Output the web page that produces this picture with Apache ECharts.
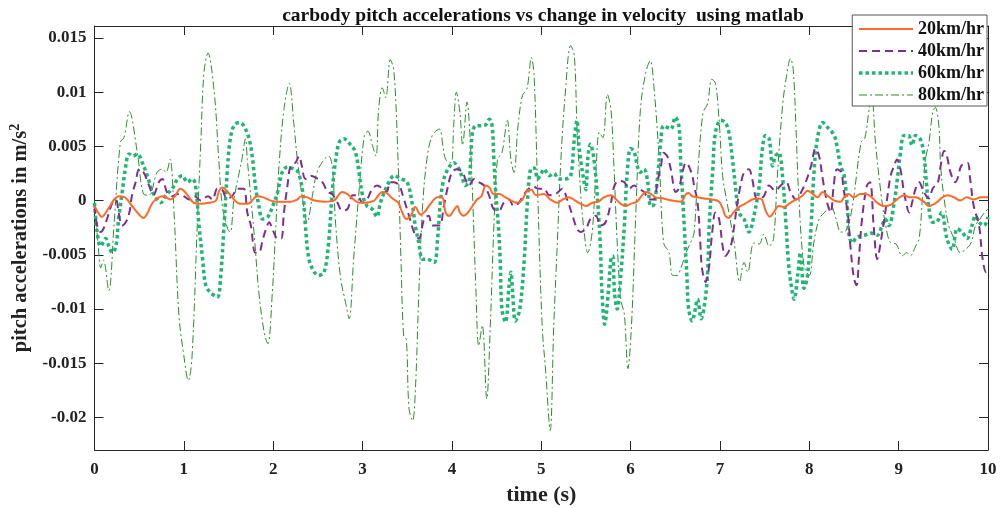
<!DOCTYPE html>
<html>
<head>
<meta charset="utf-8">
<script src="https://cdn.jsdelivr.net/npm/echarts@6/dist/echarts.min.js"></script>
<style>html,body{margin:0;padding:0;background:#fff}#c{width:1000px;height:508px}</style>
</head>
<body>
<div id="c"></div>
<script>
var seriesNames = ['20km/hr', '40km/hr', '60km/hr', '80km/hr'];
var yTicks = [-0.02, -0.015, -0.01, -0.005, 0, 0.005, 0.01, 0.015];
var yTickLabels = ['-0.02', '-0.015', '-0.01', '-0.005', '0', '0.005', '0.01', '0.015'];
var xTicks = [0, 1, 2, 3, 4, 5, 6, 7, 8, 9, 10];

var t20 = [0,0.04,0.08,0.15,0.22,0.27,0.34,0.42,0.49,0.546,0.59,0.65,0.72,0.77,0.85,0.90,0.96,1.0,1.06,1.11,1.19,1.28,1.36,1.39,1.43,1.48,1.54,1.60,1.67,1.74,1.82,1.89,1.97,2.05,2.20,2.27,2.315,2.38,2.46,2.57,2.68,2.74,2.77,2.83,2.90,2.96,3.02,3.13,3.17,3.22,3.27,3.32,3.35,3.40,3.445,3.49,3.54,3.59,3.65,3.70,3.76,3.84,3.89,3.93,3.97,4.02,4.06,4.09,4.13,4.18,4.23,4.28,4.33,4.38,4.42,4.47,4.53,4.58,4.64,4.73,4.79,4.84,4.89,4.94,5.03,5.10,5.18,5.24,5.31,5.38,5.44,5.50,5.57,5.64,5.70,5.78,5.84,5.89,5.945,6.00,6.07,6.13,6.17,6.23,6.28,6.37,6.46,6.56,6.62,6.65,6.69,6.75,6.82,6.91,6.99,7.03,7.06,7.10,7.15,7.21,7.28,7.36,7.43,7.47,7.51,7.56,7.60,7.66,7.72,7.77,7.83,7.88,7.94,7.98,8.04,8.09,8.15,8.21,8.28,8.35,8.39,8.44,8.50,8.57,8.63,8.70,8.76,8.83,8.91,8.98,9.06,9.12,9.19,9.28,9.34,9.42,9.49,9.545,9.62,9.69,9.76,9.84,9.92,10.0];
var v20 = [-0.0005,-0.0011,-0.0015,-0.0008,0.0001,0.0004,0.0003,-0.0005,-0.0012,-0.0016,-0.0012,-0.0002,0.0003,0.0004,0.0001,0.0004,0.0011,0.0009,0.0003,-0.0002,-0.0003,-0.0002,0.0,0.0008,0.0012,0.0009,0.0003,-0.0002,-0.0003,-0.0002,0.0004,0.0003,0.0,-0.0001,-0.0001,0.0001,0.0004,0.0003,0.0,-0.0001,0.0,0.0006,0.0008,0.0006,0.0001,-0.0002,-0.0002,0.0,0.0004,0.0008,0.0007,0.0003,0.0001,-0.0002,-0.0011,-0.0017,-0.0014,-0.0006,-0.0013,-0.001,-0.0003,0.0003,0.0003,-0.0011,-0.0014,-0.0009,-0.0005,-0.0011,-0.0014,-0.0011,-0.0005,0.0001,0.0004,0.0014,0.0012,0.0006,0.0006,0.0004,0.0001,-0.0002,0.0001,0.0009,0.001,0.0005,0.0006,0.0001,-0.0002,0.0001,0.0003,0.0,-0.0003,-0.0005,-0.0002,-0.0001,0.0003,0.0005,0.0001,-0.0003,-0.0005,-0.0003,-0.0001,0.0005,0.0008,0.0006,0.0003,0.0002,0.0,-0.0001,0.0006,0.0007,0.0004,0.0003,0.0002,0.0001,-0.0001,-0.0007,-0.0014,-0.0016,-0.0011,-0.0006,-0.0003,0.0001,0.0002,0.0001,-0.0009,-0.0015,-0.0011,-0.0005,-0.0006,-0.0003,0.0,0.0002,0.0006,0.0009,0.0006,0.0003,0.0008,0.0004,0.0,-0.0001,0.0003,0.0006,0.0003,0.0006,0.0006,0.0003,-0.0002,-0.0005,-0.0004,0.0001,0.0005,0.0003,0.0003,-0.0001,-0.0005,-0.0002,0.0003,0.0005,0.0003,0.0,0.0003,0.0001,0.0003,0.0003];

var t40 = [0,0.03,0.07,0.10,0.14,0.2,0.24,0.27,0.31,0.35,0.39,0.42,0.46,0.50,0.55,0.61,0.66,0.72,0.76,0.81,0.87,0.93,1.0,1.06,1.12,1.19,1.27,1.32,1.375,1.43,1.48,1.54,1.60,1.67,1.71,1.75,1.80,1.84,1.88,1.92,1.955,1.99,2.05,2.09,2.12,2.16,2.195,2.25,2.29,2.32,2.36,2.42,2.48,2.55,2.61,2.66,2.72,2.77,2.83,2.89,2.94,3.0,3.05,3.11,3.165,3.22,3.27,3.31,3.35,3.41,3.46,3.52,3.576,3.63,3.69,3.74,3.78,3.86,3.91,3.95,4.00,4.06,4.12,4.15,4.19,4.25,4.30,4.36,4.415,4.47,4.53,4.58,4.64,4.69,4.75,4.80,4.86,4.91,4.97,5.03,5.09,5.16,5.235,5.29,5.35,5.40,5.44,5.50,5.55,5.61,5.665,5.72,5.78,5.82,5.87,5.93,5.98,6.04,6.09,6.15,6.21,6.26,6.30,6.34,6.37,6.41,6.45,6.505,6.54,6.58,6.62,6.65,6.69,6.71,6.75,6.78,6.80,6.84,6.88,6.91,6.95,6.99,7.03,7.06,7.12,7.16,7.19,7.23,7.27,7.325,7.36,7.42,7.49,7.55,7.62,7.68,7.74,7.79,7.85,7.91,7.96,8.02,8.07,8.11,8.15,8.20,8.24,8.27,8.31,8.36,8.38,8.43,8.46,8.50,8.53,8.555,8.59,8.645,8.68,8.72,8.76,8.80,8.855,8.91,8.95,8.98,9.02,9.06,9.12,9.15,9.19,9.23,9.28,9.34,9.38,9.44,9.47,9.51,9.54,9.58,9.635,9.67,9.70,9.77,9.80,9.84,9.90,9.94,9.98,10.0];
var v40 = [-0.0005,-0.0023,-0.0029,-0.0026,-0.0017,-0.0002,0.0001,-0.0011,-0.0023,-0.002,-0.0011,0.0005,0.0017,0.0029,0.0026,0.0014,0.0005,0.0017,0.002,0.0008,0.0004,0.0006,0.0004,0.0001,0.0004,0.0,0.0004,0.0001,0.0011,0.001,0.0002,0.0004,0.0011,0.0011,-0.0011,-0.0023,-0.0048,-0.0048,-0.0037,-0.0026,-0.002,-0.0026,-0.0035,-0.0035,-0.0011,0.0014,0.0032,0.0035,0.0041,0.0032,0.002,0.0023,0.0021,0.0017,0.0008,0.0006,-0.0002,-0.0009,-0.0008,0.0005,0.0005,-0.0002,0.0001,0.0011,0.0014,0.0011,0.0008,0.0017,0.0017,0.0014,0.0002,-0.0014,-0.0029,-0.0035,-0.0017,-0.0014,-0.0023,-0.0023,-0.0005,0.0011,0.0026,0.0029,0.0026,0.002,0.0014,0.002,0.0017,0.0014,0.0005,-0.0008,-0.0009,-0.0002,0.0001,-0.0005,-0.0002,0.0005,0.0011,0.0013,0.0011,0.0011,0.0005,0.0006,0.0011,0.0001,-0.0014,-0.0026,-0.0029,-0.0026,-0.0017,-0.0014,-0.0023,-0.002,-0.0002,0.0014,0.0018,0.0017,0.0011,0.0014,0.0011,0.0008,0.0001,0.0001,0.0017,0.0032,0.0044,0.0041,0.0029,0.0008,0.0011,0.0026,0.0035,0.0032,0.0023,0.0014,-0.0002,-0.0039,-0.0063,-0.0075,-0.006,-0.0032,-0.0011,-0.0017,-0.0042,-0.0051,-0.0042,-0.0023,-0.0005,0.0014,0.0026,0.0029,0.002,0.0001,0.0004,0.0014,0.0009,0.0014,0.0017,0.0008,0.0001,0.0008,0.0017,0.0032,0.0048,0.0041,0.002,-0.0002,-0.0011,0.0011,0.0029,0.0026,0.0012,-0.0011,-0.0042,-0.0072,-0.0078,-0.0054,-0.0017,0.0014,0.0017,-0.0023,-0.0054,-0.0038,-0.0008,0.0023,0.0032,0.0038,0.0029,0.0008,-0.0011,-0.0002,0.0011,0.0017,0.0008,0.0002,0.0011,0.0017,0.0032,0.0046,0.0041,0.0026,0.0017,0.0023,0.0032,0.0035,0.002,-0.0005,-0.0023,-0.0054,-0.0066,-0.0065];

var t60 = [0,0.03,0.07,0.125,0.16,0.2,0.24,0.27,0.31,0.35,0.385,0.43,0.48,0.535,0.59,0.65,0.70,0.74,0.80,0.87,0.93,0.98,1.04,1.095,1.13,1.17,1.21,1.245,1.30,1.375,1.41,1.45,1.49,1.52,1.56,1.62,1.67,1.73,1.77,1.80,1.84,1.88,1.94,1.99,2.05,2.10,2.16,2.23,2.28,2.33,2.36,2.40,2.46,2.51,2.57,2.62,2.66,2.70,2.74,2.79,2.87,2.92,2.96,3.00,3.05,3.11,3.16,3.20,3.26,3.315,3.35,3.43,3.50,3.56,3.59,3.63,3.67,3.72,3.80,3.84,3.87,3.91,3.97,4.02,4.08,4.12,4.15,4.19,4.21,4.23,4.27,4.33,4.38,4.42,4.45,4.47,4.49,4.52,4.54,4.56,4.60,4.64,4.66,4.68,4.71,4.76,4.81,4.84,4.88,4.92,4.96,5.00,5.03,5.09,5.14,5.20,5.27,5.33,5.37,5.40,5.42,5.44,5.48,5.50,5.52,5.55,5.59,5.63,5.66,5.68,5.71,5.75,5.78,5.80,5.82,5.85,5.89,5.93,5.96,6.00,6.04,6.075,6.11,6.15,6.19,6.225,6.26,6.30,6.34,6.37,6.45,6.50,6.54,6.56,6.60,6.63,6.65,6.69,6.71,6.75,6.79,6.82,6.86,6.88,6.92,6.95,7.01,7.06,7.10,7.14,7.18,7.21,7.27,7.325,7.38,7.44,7.47,7.51,7.55,7.59,7.62,7.66,7.70,7.74,7.77,7.81,7.83,7.87,7.90,7.94,7.98,8.02,8.05,8.09,8.15,8.21,8.28,8.31,8.35,8.39,8.43,8.44,8.48,8.53,8.615,8.69,8.76,8.815,8.85,8.89,8.95,8.99,9.02,9.06,9.11,9.15,9.19,9.24,9.28,9.31,9.34,9.38,9.42,9.48,9.54,9.60,9.655,9.71,9.765,9.82,9.86,9.90,9.955,10.0];
var v60 = [-0.0002,-0.0029,-0.0042,-0.0035,-0.0042,-0.0048,-0.0042,-0.0017,0.0008,0.0032,0.0043,0.0041,0.0043,0.0035,0.0023,0.0008,0.0001,-0.0002,0.0005,0.0011,0.002,0.0023,0.0017,0.002,0.0014,-0.0023,-0.0054,-0.0078,-0.0085,-0.0089,-0.0072,-0.0023,0.0032,0.0057,0.0069,0.0072,0.0069,0.0057,0.0038,0.0014,-0.0005,-0.0017,-0.0015,-0.0006,0.0008,0.0026,0.0031,0.0029,0.0026,0.0008,-0.0023,-0.0054,-0.0066,-0.0069,-0.0066,-0.0039,0.0008,0.0038,0.0054,0.0057,0.0051,0.0045,0.0026,0.0005,-0.0005,-0.0008,-0.0015,-0.0002,0.0011,0.002,0.0023,0.002,0.0017,-0.0005,-0.0023,-0.0039,-0.0054,-0.0054,-0.0057,-0.0035,-0.0002,0.002,0.0031,0.0035,0.0029,0.002,0.0014,0.0017,0.0038,0.0063,0.0069,0.0069,0.007,0.0075,0.0069,0.0038,0.0008,-0.0023,-0.0054,-0.010,-0.0112,-0.0078,-0.0066,-0.0085,-0.0111,-0.010,-0.0054,-0.0008,0.0029,0.003,0.002,0.0025,0.0029,0.0023,0.0025,0.002,0.002,0.0023,0.0057,0.0074,0.0052,0.0038,0.0017,0.0010,0.0038,0.0052,0.0038,0.0001,-0.0039,-0.0085,-0.0114,-0.0085,-0.0054,-0.0051,-0.0085,-0.010,-0.0069,-0.0023,0.0023,0.0048,0.0045,0.0032,0.0026,0.0029,0.0018,-0.0005,-0.0004,0.002,0.0057,0.0069,0.0066,0.0077,0.0069,0.0038,-0.0023,-0.0069,-0.010,-0.0111,-0.0106,-0.0091,-0.0109,-0.010,-0.0069,-0.0023,0.0029,0.0063,0.0074,0.0072,0.0063,0.0038,0.0008,-0.0011,-0.0017,-0.0029,-0.0014,0.0014,0.0044,0.006,0.0057,0.0032,0.0041,0.0044,0.0023,-0.0023,-0.006,-0.0085,-0.0091,-0.0069,-0.0048,-0.0081,-0.0069,-0.0023,0.0023,0.0057,0.0072,0.0067,0.006,0.005,0.0032,0.0023,-0.0011,-0.0029,-0.0039,-0.0034,-0.0032,-0.003,-0.0032,-0.0023,-0.0017,-0.0023,-0.0002,0.0023,0.0044,0.006,0.006,0.0051,0.006,0.0057,0.0044,0.0017,-0.0008,-0.002,-0.002,-0.0011,-0.0035,-0.0045,-0.0026,-0.0029,-0.0035,-0.0023,-0.0014,-0.002,-0.0023,-0.0015];

var t80 = [0,0.04,0.07,0.1,0.16,0.22,0.29,0.33,0.39,0.48,0.55,0.61,0.70,0.76,0.80,0.845,0.89,0.945,1.0,1.05,1.09,1.15,1.19,1.225,1.27,1.34,1.39,1.43,1.49,1.52,1.56,1.62,1.65,1.69,1.71,1.785,1.84,1.90,1.94,1.99,2.03,2.065,2.12,2.18,2.23,2.27,2.33,2.38,2.44,2.49,2.57,2.62,2.66,2.70,2.755,2.81,2.85,2.90,2.96,3.02,3.06,3.11,3.15,3.18,3.22,3.26,3.31,3.35,3.39,3.43,3.46,3.49,3.52,3.56,3.59,3.63,3.67,3.72,3.78,3.86,3.90,3.93,3.99,4.02,4.05,4.09,4.12,4.17,4.20,4.23,4.27,4.30,4.34,4.39,4.43,4.47,4.51,4.56,4.62,4.66,4.695,4.74,4.79,4.84,4.89,4.92,4.96,5.01,5.05,5.10,5.14,5.18,5.22,5.27,5.33,5.37,5.40,5.44,5.48,5.52,5.57,5.61,5.65,5.69,5.74,5.78,5.81,5.85,5.89,5.93,5.97,6.01,6.06,6.11,6.17,6.22,6.26,6.32,6.37,6.43,6.47,6.52,6.56,6.62,6.67,6.71,6.75,6.81,6.86,6.91,6.95,6.99,7.03,7.08,7.16,7.22,7.27,7.31,7.38,7.44,7.49,7.55,7.60,7.64,7.70,7.74,7.79,7.82,7.85,7.88,7.94,8.00,8.05,8.11,8.17,8.24,8.30,8.35,8.39,8.47,8.58,8.62,8.67,8.70,8.74,8.80,8.855,8.91,8.97,9.04,9.09,9.13,9.19,9.23,9.27,9.30,9.34,9.38,9.41,9.45,9.47,9.51,9.56,9.62,9.69,9.75,9.81,9.86,9.91,9.96,10.0];
var v80 = [0,-0.004,-0.0062,-0.0055,-0.0083,-0.002,0.0054,0.0058,0.0082,0.0044,0.0006,0.0005,0.0026,0.0029,0.0026,0.0038,-0.0011,-0.0106,-0.0143,-0.0166,-0.0146,-0.0023,0.0054,0.0118,0.0136,0.010,0.0039,-0.0005,-0.0026,-0.0029,0.0001,0.0026,0.0038,0.0057,0.0038,-0.0029,-0.0085,-0.0122,-0.0132,-0.0085,-0.0023,0.0032,0.0084,0.0108,0.0072,0.0038,0.0001,-0.002,0.0005,0.0026,0.0038,0.0041,0.0032,-0.0023,-0.0072,-0.0094,-0.0109,-0.0054,0.0008,0.006,0.0064,0.0051,0.0041,0.0084,0.0104,0.0095,0.013,0.012,0.0054,-0.0054,-0.0125,-0.0128,-0.0192,-0.0203,-0.0177,-0.0085,-0.0008,0.0038,0.006,0.0066,0.005,0.0038,0.0035,0.0069,0.010,0.0081,0.0051,0.0091,0.0063,0.0008,-0.0085,-0.0134,-0.0115,-0.0183,-0.0115,-0.0023,0.0038,0.0044,0.0074,0.0038,0.0026,0.0069,0.0097,0.0103,0.0132,0.0115,0.0008,-0.0115,-0.0158,-0.0212,-0.0115,-0.0039,0.0038,0.010,0.0143,0.0134,0.0069,0.0008,-0.0029,-0.0048,-0.0029,0.0023,0.0063,0.0058,0.0098,0.0084,0.0038,-0.0039,-0.0091,-0.0105,-0.0155,-0.0115,-0.0008,0.0084,0.0118,0.0129,0.0106,0.0038,-0.0039,-0.0048,-0.0069,-0.0069,-0.0063,-0.0048,-0.0039,-0.003,0.0023,0.0081,0.0089,0.0112,0.0108,0.0075,0.0023,-0.0002,-0.0039,-0.0075,-0.0057,-0.0066,-0.0039,-0.004,-0.0031,-0.0042,-0.0035,0.002,0.0087,0.0112,0.0131,0.0121,0.0069,0.0008,-0.006,-0.0069,-0.0039,-0.0017,-0.0011,-0.0005,-0.0017,-0.0029,-0.0029,-0.0011,0.0054,0.0057,0.0084,0.0095,0.0054,0.0008,-0.0023,-0.0039,-0.004,-0.0051,-0.0048,-0.0051,-0.0042,-0.0035,0.0008,0.0038,0.0054,0.0081,0.0086,0.0069,0.0032,0.0001,-0.0023,-0.0035,-0.0048,-0.0045,-0.0039,-0.0023,-0.0017,-0.0011,-0.0008];

function pairs(t, v) { return t.map(function (x, i) { return [x, v[i]]; }); }

var serif = 'Liberation Serif';
var axisCol = '#262626';
var yMin = -0.023, yMax = 0.0161;

var chart = echarts.init(document.getElementById('c'), null, { renderer: 'canvas' });
chart.setOption({
  animation: false,
  backgroundColor: '#ffffff',
  title: {
    text: 'carbody pitch accelerations vs change in velocity  using matlab',
    left: 538, textAlign: 'center', top: 1,
    textStyle: { fontFamily: serif, fontWeight: 'bold', fontSize: 19.5, color: '#111' }
  },
  grid: { left: 94.5, right: 12, top: 26, bottom: 58, containLabel: false, outerBoundsMode: 'none' },
  legend: {
    orient: 'vertical', right: 13, top: 15,
    itemWidth: 54, itemHeight: 14, itemGap: 4,
    padding: [5, 3, 2, 5],
    backgroundColor: '#ffffff', borderColor: '#555', borderWidth: 1, borderRadius: 0,
    itemStyle: { opacity: 0 },
    textStyle: { fontFamily: serif, fontWeight: 'bold', fontSize: 18, color: '#111' },
    data: [
      { name: seriesNames[0], lineStyle: { width: 2 } },
      { name: seriesNames[1], lineStyle: { width: 2 } },
      { name: seriesNames[2], lineStyle: { width: 3.5 } },
      { name: seriesNames[3], lineStyle: { width: 1 } }
    ]
  },
  xAxis: [{
    type: 'value', min: 0, max: 10, interval: 1, position: 'bottom',
    name: 'time (s)', nameLocation: 'middle', nameGap: 34,
    nameTextStyle: { fontFamily: serif, fontWeight: 'bold', fontSize: 22, color: '#222' },
    axisLine: { show: true, onZero: false, lineStyle: { color: axisCol, width: 1 } },
    axisTick: { show: true, inside: true, length: 9, lineStyle: { color: axisCol } },
    axisLabel: { fontFamily: serif, fontWeight: 'bold', fontSize: 17, color: '#222', margin: 11,
      formatter: function (v) { return String(v); } },
    splitLine: { show: false }
  }, {
    type: 'value', min: 0, max: 10, interval: 1, position: 'top',
    axisLine: { show: true, onZero: false, lineStyle: { color: axisCol, width: 1 } },
    axisTick: { show: true, inside: true, length: 9, lineStyle: { color: axisCol } },
    axisLabel: { show: false }, splitLine: { show: false }
  }],
  yAxis: [{
    type: 'value', min: yMin, max: yMax, position: 'left',
    name: 'pitch accelerations in m/s{sup|2}', nameLocation: 'middle', nameGap: 51, nameRotate: 90,
    nameTextStyle: { fontFamily: serif, fontWeight: 'bold', fontSize: 20.5, color: '#222',
      rich: { sup: { fontFamily: serif, fontWeight: 'bold', fontSize: 14, color: '#222', padding: [0, 0, 12, 0] } } },
    axisLine: { show: true, onZero: false, lineStyle: { color: axisCol, width: 1 } },
    axisTick: { show: true, inside: true, length: 9, customValues: yTicks, lineStyle: { color: axisCol } },
    axisLabel: { fontFamily: serif, fontWeight: 'bold', fontSize: 17, color: '#222', margin: 8,
      customValues: yTicks,
      formatter: function (v) {
        for (var i = 0; i < yTicks.length; i++) { if (Math.abs(yTicks[i] - v) < 1e-9) return yTickLabels[i]; }
        return '';
      } },
    splitLine: { show: false }
  }, {
    type: 'value', min: yMin, max: yMax, position: 'right',
    axisLine: { show: true, onZero: false, lineStyle: { color: axisCol, width: 1 } },
    axisTick: { show: true, inside: true, length: 9, customValues: yTicks, lineStyle: { color: axisCol } },
    axisLabel: { show: false, customValues: yTicks }, splitLine: { show: false }
  }],
  series: [{
    name: seriesNames[0], type: 'line', data: pairs(t20, v20), symbol: 'none', smooth: 0.35, z: 6,
    lineStyle: { color: '#ff6a2b', width: 2, type: 'solid' }, itemStyle: { color: '#ff6a2b' }
  }, {
    name: seriesNames[1], type: 'line', data: pairs(t40, v40), symbol: 'none', smooth: 0.35, z: 5,
    lineStyle: { color: '#7e2f8e', width: 2, type: [8, 5] }, itemStyle: { color: '#7e2f8e' }
  }, {
    name: seriesNames[2], type: 'line', data: pairs(t60, v60), symbol: 'none', smooth: 0.35, z: 4,
    lineStyle: { color: '#21b573', width: 3.5, type: [3.5, 3], cap: 'butt' }, itemStyle: { color: '#21b573' }
  }, {
    name: seriesNames[3], type: 'line', data: pairs(t80, v80), symbol: 'none', smooth: 0.35, z: 3,
    lineStyle: { color: '#2a8f2a', width: 1, type: [8, 3, 2, 3] }, itemStyle: { color: '#2a8f2a' }
  }]
});
</script>
</body>
</html>
